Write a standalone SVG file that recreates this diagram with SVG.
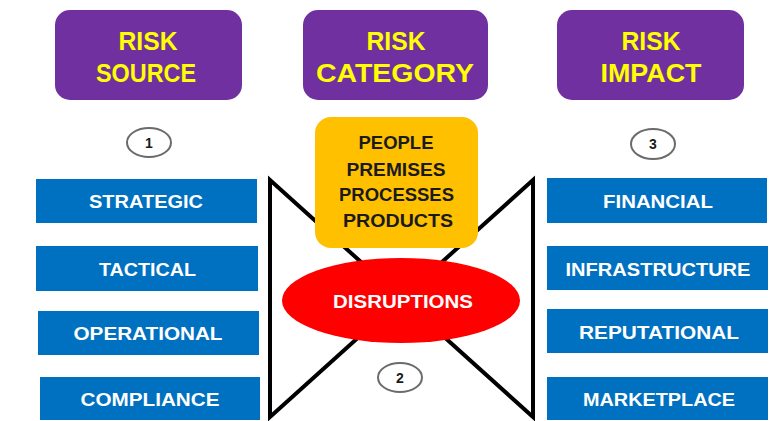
<svg xmlns="http://www.w3.org/2000/svg" width="775" height="421" viewBox="0 0 775 421">
<style>
.hdr{fill:#7030A0}
.hdrt{fill:#FFFF00;font-family:"Liberation Sans Narrow","Liberation Sans",Arial,sans-serif;font-weight:bold;font-size:26px;text-anchor:middle}
.blue{fill:#0070C0}
.bt{fill:#FFFFFF;font-family:"Liberation Sans",Arial,sans-serif;font-weight:bold;font-size:18px;text-anchor:middle}
.num{fill:#FFFFFF;stroke:#6b6b6b;stroke-width:2}
.numt{fill:#1a1a1a;font-family:"Liberation Sans",Arial,sans-serif;font-weight:bold;font-size:14px;text-anchor:middle}
.cat{fill:#1a1a1a;font-family:"Liberation Sans",Arial,sans-serif;font-weight:bold;font-size:18px;text-anchor:middle}
.tie{fill:none;stroke:#000000;stroke-width:4;stroke-linejoin:miter}
</style>
<rect width="775" height="421" fill="#FFFFFF"/>

<g id="bowtie">
<path class="tie" d="M270,180 L270,417 L533,180 L533,417 Z"/>
</g>

<g id="risk-source">
<rect class="hdr" x="55" y="10" width="187" height="90" rx="15"/>
<text class="hdrt" x="148" y="50" textLength="59" lengthAdjust="spacingAndGlyphs">RISK</text>
<text class="hdrt" x="146" y="82" textLength="100" lengthAdjust="spacingAndGlyphs">SOURCE</text>
</g>
<g id="risk-category">
<rect class="hdr" x="303" y="10" width="185" height="90" rx="15"/>
<text class="hdrt" x="396" y="50" textLength="59" lengthAdjust="spacingAndGlyphs">RISK</text>
<text class="hdrt" x="395" y="82" textLength="158" lengthAdjust="spacingAndGlyphs">CATEGORY</text>
</g>
<g id="risk-impact">
<rect class="hdr" x="557" y="10" width="187" height="90" rx="15"/>
<text class="hdrt" x="651" y="50" textLength="59" lengthAdjust="spacingAndGlyphs">RISK</text>
<text class="hdrt" x="651" y="82" textLength="101" lengthAdjust="spacingAndGlyphs">IMPACT</text>
</g>

<g id="num-1">
<ellipse class="num" cx="149" cy="142.5" rx="22" ry="14.5"/>
<text class="numt" x="149" y="147.5">1</text>
</g>
<g id="num-2">
<ellipse class="num" cx="400" cy="377.5" rx="22" ry="14.5"/>
<text class="numt" x="400" y="382.5">2</text>
</g>
<g id="num-3">
<ellipse class="num" cx="653" cy="144" rx="22" ry="15"/>
<text class="numt" x="653" y="149">3</text>
</g>

<g id="strategic">
<rect class="blue" x="36" y="179" width="221" height="44"/>
<text class="bt" x="146" y="208" textLength="114" lengthAdjust="spacingAndGlyphs">STRATEGIC</text>
</g>
<g id="tactical">
<rect class="blue" x="36" y="246" width="222" height="45"/>
<text class="bt" x="147.5" y="276" textLength="97" lengthAdjust="spacingAndGlyphs">TACTICAL</text>
</g>
<g id="operational">
<rect class="blue" x="38" y="311" width="221" height="44"/>
<text class="bt" x="148" y="340" textLength="149" lengthAdjust="spacingAndGlyphs">OPERATIONAL</text>
</g>
<g id="compliance">
<rect class="blue" x="40" y="377" width="220" height="43"/>
<text class="bt" x="150" y="406" textLength="139" lengthAdjust="spacingAndGlyphs">COMPLIANCE</text>
</g>

<g id="financial">
<rect class="blue" x="547" y="178" width="220" height="45"/>
<text class="bt" x="658" y="208" textLength="110" lengthAdjust="spacingAndGlyphs">FINANCIAL</text>
</g>
<g id="infrastructure">
<rect class="blue" x="547" y="246" width="221" height="44"/>
<text class="bt" x="658" y="276" textLength="185" lengthAdjust="spacingAndGlyphs">INFRASTRUCTURE</text>
</g>
<g id="reputational">
<rect class="blue" x="547" y="309" width="221" height="44"/>
<text class="bt" x="659" y="339" textLength="160" lengthAdjust="spacingAndGlyphs">REPUTATIONAL</text>
</g>
<g id="marketplace">
<rect class="blue" x="547" y="377" width="221" height="43"/>
<text class="bt" x="659" y="406" textLength="152" lengthAdjust="spacingAndGlyphs">MARKETPLACE</text>
</g>

<g id="categories">
<rect x="315" y="117" width="163" height="131" rx="16" fill="#FFC000"/>
<text class="cat" x="396" y="149" textLength="75" lengthAdjust="spacingAndGlyphs">PEOPLE</text>
<text class="cat" x="396" y="176" textLength="99" lengthAdjust="spacingAndGlyphs">PREMISES</text>
<text class="cat" x="396.5" y="201" textLength="115" lengthAdjust="spacingAndGlyphs">PROCESSES</text>
<text class="cat" x="398" y="227" textLength="110" lengthAdjust="spacingAndGlyphs">PRODUCTS</text>
</g>

<g id="disruptions">
<ellipse cx="401" cy="300.5" rx="119" ry="42.5" fill="#FF0000"/>
<text class="bt" x="403" y="308" textLength="140" lengthAdjust="spacingAndGlyphs">DISRUPTIONS</text>
</g>
</svg>
